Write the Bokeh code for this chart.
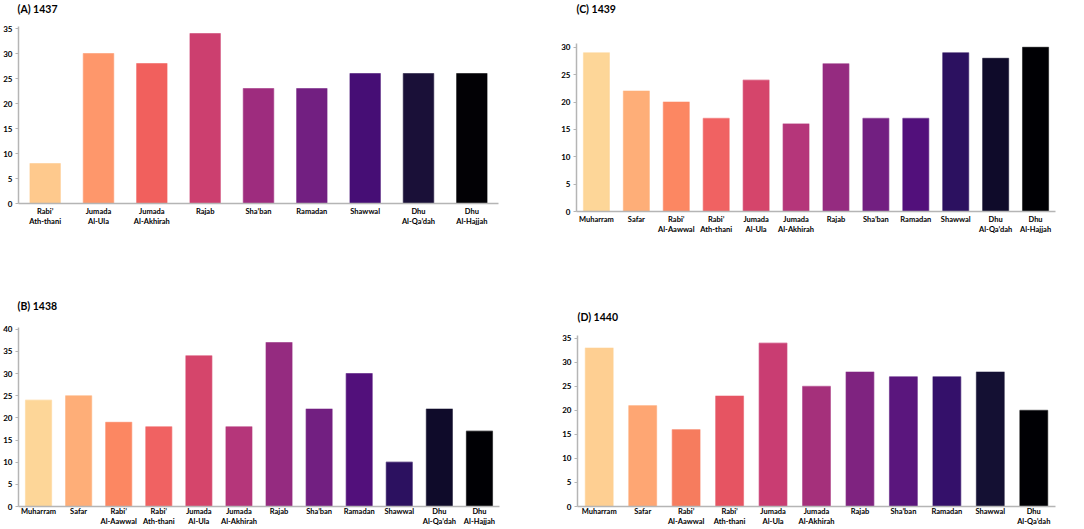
from bokeh.plotting import figure
from bokeh.layouts import column, row
from bokeh.models import FactorRange, Range1d, SingleIntervalTicker, ColumnDataSource, Title
from bokeh.embed import file_html
from bokeh.resources import INLINE

# ---------------- data ----------------
months_a = ["Rabi’\nAth-thani", "Jumada\nAl-Ula", "Jumada\nAl-Akhirah", "Rajab", "Sha’ban",
            "Ramadan", "Shawwal", "Dhu\nAl-Qa’dah", "Dhu\nAl-Hajjah"]
values_a = [8, 30, 28, 34, 23, 23, 26, 26, 26]

months_b = ["Muharram", "Safar", "Rabi’\nAl-Aawwal", "Rabi’\nAth-thani", "Jumada\nAl-Ula",
            "Jumada\nAl-Akhirah", "Rajab", "Sha’ban", "Ramadan", "Shawwal", "Dhu\nAl-Qa’dah",
            "Dhu\nAl-Hajjah"]
values_b = [24, 25, 19, 18, 34, 18, 37, 22, 30, 10, 22, 17]

months_c = list(months_b)
values_c = [29, 22, 20, 17, 24, 16, 27, 17, 17, 29, 28, 30]

months_d = months_b[:11]
values_d = [33, 21, 16, 23, 34, 25, 28, 27, 27, 28, 20]

colors_9 = ["#fec98d", "#fe976b", "#f1605d", "#cc3f6f", "#9e2c7e", "#721f81",
            "#460e75", "#1a1038", "#020105"]
colors_12 = ["#fdd698", "#feae78", "#fc8762", "#f06262", "#d5456b", "#b5367a",
             "#952b80", "#721f81", "#52107b", "#2c1160", "#0f0b2a", "#000004"]
colors_11 = ["#fecf92", "#fea673", "#f67c5e", "#e65462", "#c93d72", "#a5307b",
             "#7f2380", "#5a167d", "#34106a", "#141033", "#000004"]

FONT = "Lato"
AXIS_COL = "#b5b5b5"


def panel(title, months, values, colors, ymax, bar_w, width, height,
          bl, br, bt, bb, title_offset, title_gap, x_standoff):
    src = ColumnDataSource(dict(m=months, v=values, c=colors))
    p = figure(x_range=FactorRange(factors=months), y_range=Range1d(0, ymax),
               width=width, height=height, output_backend="svg",
               toolbar_location=None, tools="", title=None,
               min_border_left=bl, min_border_right=br,
               min_border_top=bt, min_border_bottom=bb)
    # invisible spacer between the frame and the title
    p.add_layout(Title(text=" ", text_font_size="1px", standoff=title_gap), "above")
    p.add_layout(Title(text=title, text_font=FONT, text_font_style="bold",
                       text_font_size="10.5px", align="left", offset=title_offset,
                       standoff=0, text_color="black"), "above")
    p.vbar(x="m", top="v", width=bar_w, source=src, fill_color="c",
           line_color="c", line_alpha=0.55, line_width=1.2)
    p.outline_line_color = None
    p.grid.visible = False
    p.background_fill_color = "white"
    for ax in (p.xaxis[0], p.yaxis[0]):
        ax.axis_line_color = AXIS_COL
        ax.axis_line_width = 1.5
        ax.major_label_text_font = FONT
        ax.major_label_text_font_style = "bold"
        ax.major_label_text_color = "black"
        ax.minor_tick_line_color = None
        ax.axis_label_standoff = 0
    yax = p.yaxis[0]
    yax.ticker = SingleIntervalTicker(interval=5)
    yax.major_tick_line_color = AXIS_COL
    yax.major_tick_out = 3
    yax.major_tick_in = 0
    yax.major_label_standoff = 2
    yax.major_label_text_font_size = "8px"
    xax = p.xaxis[0]
    xax.major_tick_line_color = None
    xax.major_tick_out = 0
    xax.major_tick_in = 0
    xax.major_label_standoff = x_standoff
    xax.major_label_text_font_size = "7.5px"
    xax.major_label_text_line_height = 1.2
    return p


pA = panel("(A) 1437", months_a, values_a, colors_9, 35.4, 0.57, 540, 290,
           14, 42, 26, 87, -1, 8.5, 3)
pC = panel("(C) 1439", months_c, values_c, colors_12, 30.7, 0.65, 544, 290,
           36, 29, 43, 79, 0, 26, 3)
pB = panel("(B) 1438", months_b, values_b, colors_12, 40.4, 0.65, 540, 239,
           16, 41, 37, 22, -1, 13, 0)
pD = panel("(D) 1440", months_d, values_d, colors_11, 35.6, 0.64, 544, 239,
           37, 29, 45, 20, 0, 10, 0)

layout = column(row(column(pA), column(pC)), row(column(pB), column(pD)))

open("out.html", "w").write(file_html(layout, INLINE))
